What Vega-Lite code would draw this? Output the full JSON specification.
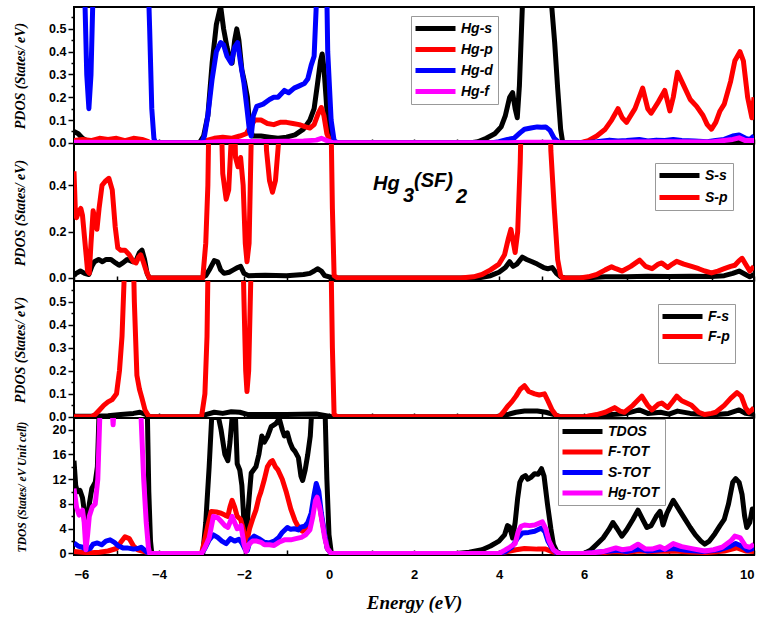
{
"$schema": "https://vega.github.io/schema/vega-lite/v6.json",
"padding": {"left": 11, "top": 6, "right": 5, "bottom": 5},
"spacing": 0,
"bounds": "flush",
"background": "white",
"config": {
  "view": {"stroke": "black", "strokeWidth": 2},
  "line": {"strokeWidth": 5, "clip": true, "strokeJoin": "round"},
  "axisY": {"titleFont": "Liberation Serif", "titleFontStyle": "italic", "titleFontWeight": "bold", "titleFontSize": 14, "titleColor": "black", "titleX": -47, "labelFont": "Liberation Sans", "labelFontWeight": "bold", "labelFontSize": 12.5, "labelColor": "black", "tickColor": "black", "tickWidth": 1.5, "domain": false, "grid": false, "labelPadding": 2},
  "axisX": {"domain": false, "grid": false, "tickColor": "black", "tickWidth": 1.5, "tickSize": -5, "labelColor": "black"},
  "legend": {"orient": "none", "title": null, "symbolType": "M-4,0L4,0", "symbolStrokeWidth": 5, "symbolSize": 100, "symbolOffset": 12, "labelOffset": 18, "labelFont": "Liberation Sans", "labelFontSize": 14, "labelFontWeight": "bold", "labelFontStyle": "italic", "labelColor": "black", "strokeColor": "#999", "fillColor": "white", "padding": 5, "rowPadding": 6}
},
"resolve": {"scale": {"y": "independent", "color": "independent"}},
"datasets": {
"hg": [
{"e":-6,"v":0.05,"s":"Hg-s"},{"e":-5.9,"v":0.04,"s":"Hg-s"},{"e":-5.8,"v":0.02,"s":"Hg-s"},{"e":-5.7,"v":0.01,"s":"Hg-s"},{"e":-5.5,"v":0.01,"s":"Hg-s"},{"e":-5.2,"v":0.012,"s":"Hg-s"},{"e":-4.9,"v":0.006,"s":"Hg-s"},{"e":-4.5,"v":0.006,"s":"Hg-s"},{"e":-4.3,"v":0.003,"s":"Hg-s"},{"e":-4.2,"v":0,"s":"Hg-s"},{"e":-3.05,"v":0,"s":"Hg-s"},{"e":-2.95,"v":0.03,"s":"Hg-s"},{"e":-2.85,"v":0.12,"s":"Hg-s"},{"e":-2.75,"v":0.35,"s":"Hg-s"},{"e":-2.65,"v":0.52,"s":"Hg-s"},{"e":-2.55,"v":0.6,"s":"Hg-s"},{"e":-2.48,"v":0.5,"s":"Hg-s"},{"e":-2.4,"v":0.42,"s":"Hg-s"},{"e":-2.32,"v":0.36,"s":"Hg-s"},{"e":-2.28,"v":0.35,"s":"Hg-s"},{"e":-2.22,"v":0.45,"s":"Hg-s"},{"e":-2.17,"v":0.5,"s":"Hg-s"},{"e":-2.12,"v":0.45,"s":"Hg-s"},{"e":-2.05,"v":0.32,"s":"Hg-s"},{"e":-1.98,"v":0.26,"s":"Hg-s"},{"e":-1.92,"v":0.2,"s":"Hg-s"},{"e":-1.87,"v":0.08,"s":"Hg-s"},{"e":-1.8,"v":0.03,"s":"Hg-s"},{"e":-1.6,"v":0.03,"s":"Hg-s"},{"e":-1.4,"v":0.025,"s":"Hg-s"},{"e":-1.2,"v":0.02,"s":"Hg-s"},{"e":-1.0,"v":0.025,"s":"Hg-s"},{"e":-0.8,"v":0.035,"s":"Hg-s"},{"e":-0.6,"v":0.06,"s":"Hg-s"},{"e":-0.45,"v":0.1,"s":"Hg-s"},{"e":-0.35,"v":0.15,"s":"Hg-s"},{"e":-0.27,"v":0.26,"s":"Hg-s"},{"e":-0.2,"v":0.36,"s":"Hg-s"},{"e":-0.16,"v":0.39,"s":"Hg-s"},{"e":-0.12,"v":0.33,"s":"Hg-s"},{"e":-0.07,"v":0.2,"s":"Hg-s"},{"e":-0.02,"v":0.06,"s":"Hg-s"},{"e":0.05,"v":0.01,"s":"Hg-s"},{"e":0.12,"v":0,"s":"Hg-s"},{"e":3.3,"v":0,"s":"Hg-s"},{"e":3.5,"v":0.005,"s":"Hg-s"},{"e":3.7,"v":0.02,"s":"Hg-s"},{"e":3.9,"v":0.04,"s":"Hg-s"},{"e":4.05,"v":0.07,"s":"Hg-s"},{"e":4.15,"v":0.12,"s":"Hg-s"},{"e":4.25,"v":0.2,"s":"Hg-s"},{"e":4.32,"v":0.22,"s":"Hg-s"},{"e":4.38,"v":0.15,"s":"Hg-s"},{"e":4.43,"v":0.11,"s":"Hg-s"},{"e":4.48,"v":0.25,"s":"Hg-s"},{"e":4.55,"v":0.6,"s":"Hg-s"},{"e":4.6,"v":1,"s":"Hg-s"},{"e":5.15,"v":1,"s":"Hg-s"},{"e":5.24,"v":0.6,"s":"Hg-s"},{"e":5.31,"v":0.44,"s":"Hg-s"},{"e":5.38,"v":0.24,"s":"Hg-s"},{"e":5.45,"v":0.06,"s":"Hg-s"},{"e":5.5,"v":0,"s":"Hg-s"},{"e":9.3,"v":0,"s":"Hg-s"},{"e":9.5,"v":0.005,"s":"Hg-s"},{"e":9.6,"v":0.01,"s":"Hg-s"},{"e":9.7,"v":0.005,"s":"Hg-s"},{"e":10,"v":0,"s":"Hg-s"},
{"e":-6,"v":0.01,"s":"Hg-p"},{"e":-5.8,"v":0.015,"s":"Hg-p"},{"e":-5.6,"v":0.01,"s":"Hg-p"},{"e":-5.4,"v":0.02,"s":"Hg-p"},{"e":-5.2,"v":0.015,"s":"Hg-p"},{"e":-5.0,"v":0.02,"s":"Hg-p"},{"e":-4.8,"v":0.01,"s":"Hg-p"},{"e":-4.6,"v":0.02,"s":"Hg-p"},{"e":-4.4,"v":0.015,"s":"Hg-p"},{"e":-4.25,"v":0.005,"s":"Hg-p"},{"e":-4.2,"v":0,"s":"Hg-p"},{"e":-3.0,"v":0,"s":"Hg-p"},{"e":-2.9,"v":0.01,"s":"Hg-p"},{"e":-2.7,"v":0.02,"s":"Hg-p"},{"e":-2.5,"v":0.025,"s":"Hg-p"},{"e":-2.3,"v":0.02,"s":"Hg-p"},{"e":-2.1,"v":0.03,"s":"Hg-p"},{"e":-1.95,"v":0.04,"s":"Hg-p"},{"e":-1.85,"v":0.07,"s":"Hg-p"},{"e":-1.75,"v":0.1,"s":"Hg-p"},{"e":-1.6,"v":0.1,"s":"Hg-p"},{"e":-1.45,"v":0.085,"s":"Hg-p"},{"e":-1.3,"v":0.08,"s":"Hg-p"},{"e":-1.15,"v":0.09,"s":"Hg-p"},{"e":-1.0,"v":0.09,"s":"Hg-p"},{"e":-0.85,"v":0.085,"s":"Hg-p"},{"e":-0.7,"v":0.08,"s":"Hg-p"},{"e":-0.55,"v":0.07,"s":"Hg-p"},{"e":-0.45,"v":0.065,"s":"Hg-p"},{"e":-0.35,"v":0.08,"s":"Hg-p"},{"e":-0.25,"v":0.13,"s":"Hg-p"},{"e":-0.18,"v":0.155,"s":"Hg-p"},{"e":-0.12,"v":0.12,"s":"Hg-p"},{"e":-0.05,"v":0.04,"s":"Hg-p"},{"e":0.03,"v":0.005,"s":"Hg-p"},{"e":0.1,"v":0,"s":"Hg-p"},{"e":5.9,"v":0,"s":"Hg-p"},{"e":6.1,"v":0.01,"s":"Hg-p"},{"e":6.3,"v":0.03,"s":"Hg-p"},{"e":6.5,"v":0.06,"s":"Hg-p"},{"e":6.65,"v":0.1,"s":"Hg-p"},{"e":6.8,"v":0.15,"s":"Hg-p"},{"e":6.9,"v":0.11,"s":"Hg-p"},{"e":7.0,"v":0.09,"s":"Hg-p"},{"e":7.2,"v":0.15,"s":"Hg-p"},{"e":7.38,"v":0.24,"s":"Hg-p"},{"e":7.5,"v":0.15,"s":"Hg-p"},{"e":7.58,"v":0.13,"s":"Hg-p"},{"e":7.75,"v":0.18,"s":"Hg-p"},{"e":7.9,"v":0.23,"s":"Hg-p"},{"e":8.02,"v":0.14,"s":"Hg-p"},{"e":8.1,"v":0.2,"s":"Hg-p"},{"e":8.2,"v":0.31,"s":"Hg-p"},{"e":8.35,"v":0.25,"s":"Hg-p"},{"e":8.5,"v":0.19,"s":"Hg-p"},{"e":8.65,"v":0.16,"s":"Hg-p"},{"e":8.8,"v":0.12,"s":"Hg-p"},{"e":8.9,"v":0.08,"s":"Hg-p"},{"e":9.0,"v":0.06,"s":"Hg-p"},{"e":9.1,"v":0.09,"s":"Hg-p"},{"e":9.2,"v":0.14,"s":"Hg-p"},{"e":9.3,"v":0.17,"s":"Hg-p"},{"e":9.45,"v":0.27,"s":"Hg-p"},{"e":9.55,"v":0.36,"s":"Hg-p"},{"e":9.67,"v":0.4,"s":"Hg-p"},{"e":9.75,"v":0.36,"s":"Hg-p"},{"e":9.85,"v":0.2,"s":"Hg-p"},{"e":9.95,"v":0.11,"s":"Hg-p"},{"e":10,"v":0.2,"s":"Hg-p"},
{"e":-6,"v":1,"s":"Hg-d"},{"e":-5.78,"v":1,"s":"Hg-d"},{"e":-5.74,"v":0.6,"s":"Hg-d"},{"e":-5.7,"v":0.3,"s":"Hg-d"},{"e":-5.65,"v":0.15,"s":"Hg-d"},{"e":-5.6,"v":0.3,"s":"Hg-d"},{"e":-5.56,"v":0.6,"s":"Hg-d"},{"e":-5.52,"v":1,"s":"Hg-d"},{"e":-4.3,"v":1,"s":"Hg-d"},{"e":-4.22,"v":0.5,"s":"Hg-d"},{"e":-4.17,"v":0.15,"s":"Hg-d"},{"e":-4.12,"v":0.02,"s":"Hg-d"},{"e":-4.08,"v":0,"s":"Hg-d"},{"e":-3.0,"v":0,"s":"Hg-d"},{"e":-2.93,"v":0.03,"s":"Hg-d"},{"e":-2.85,"v":0.12,"s":"Hg-d"},{"e":-2.75,"v":0.28,"s":"Hg-d"},{"e":-2.65,"v":0.4,"s":"Hg-d"},{"e":-2.55,"v":0.44,"s":"Hg-d"},{"e":-2.48,"v":0.43,"s":"Hg-d"},{"e":-2.4,"v":0.38,"s":"Hg-d"},{"e":-2.3,"v":0.35,"s":"Hg-d"},{"e":-2.22,"v":0.42,"s":"Hg-d"},{"e":-2.15,"v":0.44,"s":"Hg-d"},{"e":-2.08,"v":0.35,"s":"Hg-d"},{"e":-2.0,"v":0.26,"s":"Hg-d"},{"e":-1.93,"v":0.15,"s":"Hg-d"},{"e":-1.87,"v":0.05,"s":"Hg-d"},{"e":-1.83,"v":0.03,"s":"Hg-d"},{"e":-1.78,"v":0.12,"s":"Hg-d"},{"e":-1.7,"v":0.16,"s":"Hg-d"},{"e":-1.55,"v":0.17,"s":"Hg-d"},{"e":-1.4,"v":0.19,"s":"Hg-d"},{"e":-1.3,"v":0.2,"s":"Hg-d"},{"e":-1.2,"v":0.2,"s":"Hg-d"},{"e":-1.05,"v":0.23,"s":"Hg-d"},{"e":-0.95,"v":0.22,"s":"Hg-d"},{"e":-0.82,"v":0.24,"s":"Hg-d"},{"e":-0.7,"v":0.25,"s":"Hg-d"},{"e":-0.58,"v":0.26,"s":"Hg-d"},{"e":-0.5,"v":0.28,"s":"Hg-d"},{"e":-0.42,"v":0.34,"s":"Hg-d"},{"e":-0.35,"v":0.38,"s":"Hg-d"},{"e":-0.3,"v":0.6,"s":"Hg-d"},{"e":-0.27,"v":1,"s":"Hg-d"},{"e":-0.08,"v":1,"s":"Hg-d"},{"e":-0.03,"v":0.4,"s":"Hg-d"},{"e":0.05,"v":0.1,"s":"Hg-d"},{"e":0.12,"v":0.01,"s":"Hg-d"},{"e":0.2,"v":0,"s":"Hg-d"},{"e":3.8,"v":0,"s":"Hg-d"},{"e":4.0,"v":0.005,"s":"Hg-d"},{"e":4.2,"v":0.015,"s":"Hg-d"},{"e":4.35,"v":0.02,"s":"Hg-d"},{"e":4.5,"v":0.045,"s":"Hg-d"},{"e":4.6,"v":0.06,"s":"Hg-d"},{"e":4.75,"v":0.065,"s":"Hg-d"},{"e":4.9,"v":0.07,"s":"Hg-d"},{"e":5.0,"v":0.068,"s":"Hg-d"},{"e":5.1,"v":0.07,"s":"Hg-d"},{"e":5.2,"v":0.055,"s":"Hg-d"},{"e":5.3,"v":0.02,"s":"Hg-d"},{"e":5.4,"v":0.003,"s":"Hg-d"},{"e":5.5,"v":0,"s":"Hg-d"},{"e":6.0,"v":0,"s":"Hg-d"},{"e":6.3,"v":0.005,"s":"Hg-d"},{"e":6.6,"v":0.012,"s":"Hg-d"},{"e":6.8,"v":0.008,"s":"Hg-d"},{"e":7.0,"v":0.01,"s":"Hg-d"},{"e":7.3,"v":0.015,"s":"Hg-d"},{"e":7.5,"v":0.008,"s":"Hg-d"},{"e":7.7,"v":0.012,"s":"Hg-d"},{"e":7.9,"v":0.01,"s":"Hg-d"},{"e":8.1,"v":0.015,"s":"Hg-d"},{"e":8.3,"v":0.01,"s":"Hg-d"},{"e":8.6,"v":0.008,"s":"Hg-d"},{"e":8.9,"v":0.005,"s":"Hg-d"},{"e":9.1,"v":0.01,"s":"Hg-d"},{"e":9.3,"v":0.015,"s":"Hg-d"},{"e":9.5,"v":0.03,"s":"Hg-d"},{"e":9.65,"v":0.035,"s":"Hg-d"},{"e":9.8,"v":0.02,"s":"Hg-d"},{"e":9.9,"v":0.015,"s":"Hg-d"},{"e":10,"v":0.03,"s":"Hg-d"},
{"e":-6,"v":0.003,"s":"Hg-f"},{"e":-4.2,"v":0.002,"s":"Hg-f"},{"e":-4.1,"v":0,"s":"Hg-f"},{"e":-3,"v":0,"s":"Hg-f"},{"e":-2.6,"v":0.005,"s":"Hg-f"},{"e":-2.2,"v":0.006,"s":"Hg-f"},{"e":-1.5,"v":0.006,"s":"Hg-f"},{"e":-0.6,"v":0.008,"s":"Hg-f"},{"e":-0.3,"v":0.012,"s":"Hg-f"},{"e":-0.18,"v":0.02,"s":"Hg-f"},{"e":-0.05,"v":0.01,"s":"Hg-f"},{"e":0.1,"v":0,"s":"Hg-f"},{"e":4.2,"v":0,"s":"Hg-f"},{"e":4.6,"v":0.003,"s":"Hg-f"},{"e":5.3,"v":0.003,"s":"Hg-f"},{"e":5.5,"v":0,"s":"Hg-f"},{"e":6.0,"v":0,"s":"Hg-f"},{"e":7,"v":0.004,"s":"Hg-f"},{"e":8,"v":0.005,"s":"Hg-f"},{"e":9.0,"v":0.004,"s":"Hg-f"},{"e":9.5,"v":0.015,"s":"Hg-f"},{"e":9.65,"v":0.022,"s":"Hg-f"},{"e":9.8,"v":0.01,"s":"Hg-f"},{"e":10,"v":0.01,"s":"Hg-f"}
],
"s": [
{"e":-6,"v":0.01,"s":"S-s"},{"e":-5.95,"v":0.02,"s":"S-s"},{"e":-5.85,"v":0.03,"s":"S-s"},{"e":-5.75,"v":0.02,"s":"S-s"},{"e":-5.65,"v":0.015,"s":"S-s"},{"e":-5.58,"v":0.05,"s":"S-s"},{"e":-5.52,"v":0.07,"s":"S-s"},{"e":-5.42,"v":0.08,"s":"S-s"},{"e":-5.33,"v":0.07,"s":"S-s"},{"e":-5.25,"v":0.08,"s":"S-s"},{"e":-5.13,"v":0.08,"s":"S-s"},{"e":-5.02,"v":0.065,"s":"S-s"},{"e":-4.94,"v":0.055,"s":"S-s"},{"e":-4.85,"v":0.065,"s":"S-s"},{"e":-4.75,"v":0.08,"s":"S-s"},{"e":-4.62,"v":0.07,"s":"S-s"},{"e":-4.54,"v":0.075,"s":"S-s"},{"e":-4.46,"v":0.11,"s":"S-s"},{"e":-4.4,"v":0.12,"s":"S-s"},{"e":-4.34,"v":0.08,"s":"S-s"},{"e":-4.28,"v":0.02,"s":"S-s"},{"e":-4.23,"v":0,"s":"S-s"},{"e":-3.0,"v":0,"s":"S-s"},{"e":-2.9,"v":0.01,"s":"S-s"},{"e":-2.8,"v":0.04,"s":"S-s"},{"e":-2.7,"v":0.075,"s":"S-s"},{"e":-2.62,"v":0.07,"s":"S-s"},{"e":-2.55,"v":0.035,"s":"S-s"},{"e":-2.47,"v":0.02,"s":"S-s"},{"e":-2.35,"v":0.025,"s":"S-s"},{"e":-2.25,"v":0.035,"s":"S-s"},{"e":-2.15,"v":0.045,"s":"S-s"},{"e":-2.08,"v":0.05,"s":"S-s"},{"e":-2.0,"v":0.02,"s":"S-s"},{"e":-1.9,"v":0.01,"s":"S-s"},{"e":-1.5,"v":0.012,"s":"S-s"},{"e":-1.0,"v":0.01,"s":"S-s"},{"e":-0.6,"v":0.015,"s":"S-s"},{"e":-0.45,"v":0.02,"s":"S-s"},{"e":-0.35,"v":0.03,"s":"S-s"},{"e":-0.27,"v":0.04,"s":"S-s"},{"e":-0.18,"v":0.03,"s":"S-s"},{"e":-0.1,"v":0.01,"s":"S-s"},{"e":0.1,"v":0,"s":"S-s"},{"e":3.5,"v":0,"s":"S-s"},{"e":3.8,"v":0.01,"s":"S-s"},{"e":4.0,"v":0.025,"s":"S-s"},{"e":4.15,"v":0.045,"s":"S-s"},{"e":4.25,"v":0.07,"s":"S-s"},{"e":4.33,"v":0.05,"s":"S-s"},{"e":4.42,"v":0.06,"s":"S-s"},{"e":4.55,"v":0.09,"s":"S-s"},{"e":4.65,"v":0.08,"s":"S-s"},{"e":4.78,"v":0.07,"s":"S-s"},{"e":4.9,"v":0.06,"s":"S-s"},{"e":5.05,"v":0.045,"s":"S-s"},{"e":5.15,"v":0.04,"s":"S-s"},{"e":5.25,"v":0.045,"s":"S-s"},{"e":5.35,"v":0.02,"s":"S-s"},{"e":5.45,"v":0.005,"s":"S-s"},{"e":5.55,"v":0,"s":"S-s"},{"e":6.0,"v":0,"s":"S-s"},{"e":6.5,"v":0.005,"s":"S-s"},{"e":7.0,"v":0.005,"s":"S-s"},{"e":7.5,"v":0.008,"s":"S-s"},{"e":8.0,"v":0.006,"s":"S-s"},{"e":8.5,"v":0.008,"s":"S-s"},{"e":9.0,"v":0.006,"s":"S-s"},{"e":9.3,"v":0.01,"s":"S-s"},{"e":9.5,"v":0.02,"s":"S-s"},{"e":9.65,"v":0.03,"s":"S-s"},{"e":9.8,"v":0.015,"s":"S-s"},{"e":9.9,"v":0.005,"s":"S-s"},{"e":10,"v":0.015,"s":"S-s"},
{"e":-6,"v":0.46,"s":"S-p"},{"e":-5.97,"v":0.3,"s":"S-p"},{"e":-5.94,"v":0.26,"s":"S-p"},{"e":-5.88,"v":0.29,"s":"S-p"},{"e":-5.84,"v":0.3,"s":"S-p"},{"e":-5.8,"v":0.27,"s":"S-p"},{"e":-5.74,"v":0.15,"s":"S-p"},{"e":-5.68,"v":0.03,"s":"S-p"},{"e":-5.64,"v":0.02,"s":"S-p"},{"e":-5.6,"v":0.15,"s":"S-p"},{"e":-5.55,"v":0.29,"s":"S-p"},{"e":-5.5,"v":0.25,"s":"S-p"},{"e":-5.46,"v":0.21,"s":"S-p"},{"e":-5.41,"v":0.3,"s":"S-p"},{"e":-5.34,"v":0.4,"s":"S-p"},{"e":-5.25,"v":0.42,"s":"S-p"},{"e":-5.18,"v":0.43,"s":"S-p"},{"e":-5.1,"v":0.38,"s":"S-p"},{"e":-5.03,"v":0.22,"s":"S-p"},{"e":-4.97,"v":0.13,"s":"S-p"},{"e":-4.9,"v":0.12,"s":"S-p"},{"e":-4.8,"v":0.12,"s":"S-p"},{"e":-4.7,"v":0.1,"s":"S-p"},{"e":-4.6,"v":0.07,"s":"S-p"},{"e":-4.54,"v":0.065,"s":"S-p"},{"e":-4.48,"v":0.09,"s":"S-p"},{"e":-4.43,"v":0.1,"s":"S-p"},{"e":-4.37,"v":0.07,"s":"S-p"},{"e":-4.3,"v":0.03,"s":"S-p"},{"e":-4.23,"v":0,"s":"S-p"},{"e":-2.97,"v":0,"s":"S-p"},{"e":-2.9,"v":0.15,"s":"S-p"},{"e":-2.85,"v":0.4,"s":"S-p"},{"e":-2.8,"v":1,"s":"S-p"},{"e":-2.58,"v":1,"s":"S-p"},{"e":-2.5,"v":0.45,"s":"S-p"},{"e":-2.42,"v":0.34,"s":"S-p"},{"e":-2.36,"v":0.38,"s":"S-p"},{"e":-2.3,"v":0.6,"s":"S-p"},{"e":-2.26,"v":1,"s":"S-p"},{"e":-2.2,"v":0.52,"s":"S-p"},{"e":-2.14,"v":0.48,"s":"S-p"},{"e":-2.08,"v":0.52,"s":"S-p"},{"e":-2.02,"v":0.4,"s":"S-p"},{"e":-1.97,"v":0.15,"s":"S-p"},{"e":-1.93,"v":0.07,"s":"S-p"},{"e":-1.88,"v":0.15,"s":"S-p"},{"e":-1.83,"v":0.6,"s":"S-p"},{"e":-1.8,"v":1,"s":"S-p"},{"e":-1.55,"v":1,"s":"S-p"},{"e":-1.47,"v":0.55,"s":"S-p"},{"e":-1.4,"v":0.42,"s":"S-p"},{"e":-1.33,"v":0.37,"s":"S-p"},{"e":-1.26,"v":0.42,"s":"S-p"},{"e":-1.18,"v":0.6,"s":"S-p"},{"e":-1.12,"v":1,"s":"S-p"},{"e":0.02,"v":1,"s":"S-p"},{"e":0.08,"v":0.3,"s":"S-p"},{"e":0.12,"v":0.01,"s":"S-p"},{"e":0.2,"v":0,"s":"S-p"},{"e":3.1,"v":0,"s":"S-p"},{"e":3.4,"v":0.005,"s":"S-p"},{"e":3.6,"v":0.015,"s":"S-p"},{"e":3.8,"v":0.035,"s":"S-p"},{"e":4.0,"v":0.06,"s":"S-p"},{"e":4.13,"v":0.1,"s":"S-p"},{"e":4.22,"v":0.17,"s":"S-p"},{"e":4.28,"v":0.21,"s":"S-p"},{"e":4.33,"v":0.16,"s":"S-p"},{"e":4.38,"v":0.11,"s":"S-p"},{"e":4.44,"v":0.2,"s":"S-p"},{"e":4.5,"v":0.5,"s":"S-p"},{"e":4.56,"v":1,"s":"S-p"},{"e":5.17,"v":1,"s":"S-p"},{"e":5.22,"v":0.55,"s":"S-p"},{"e":5.3,"v":0.3,"s":"S-p"},{"e":5.38,"v":0.08,"s":"S-p"},{"e":5.45,"v":0.01,"s":"S-p"},{"e":5.5,"v":0,"s":"S-p"},{"e":5.9,"v":0,"s":"S-p"},{"e":6.1,"v":0.005,"s":"S-p"},{"e":6.3,"v":0.015,"s":"S-p"},{"e":6.5,"v":0.035,"s":"S-p"},{"e":6.65,"v":0.048,"s":"S-p"},{"e":6.75,"v":0.04,"s":"S-p"},{"e":6.9,"v":0.03,"s":"S-p"},{"e":7.1,"v":0.05,"s":"S-p"},{"e":7.31,"v":0.077,"s":"S-p"},{"e":7.45,"v":0.05,"s":"S-p"},{"e":7.6,"v":0.04,"s":"S-p"},{"e":7.75,"v":0.06,"s":"S-p"},{"e":7.83,"v":0.065,"s":"S-p"},{"e":7.97,"v":0.045,"s":"S-p"},{"e":8.08,"v":0.06,"s":"S-p"},{"e":8.18,"v":0.072,"s":"S-p"},{"e":8.35,"v":0.06,"s":"S-p"},{"e":8.53,"v":0.05,"s":"S-p"},{"e":8.7,"v":0.04,"s":"S-p"},{"e":8.84,"v":0.03,"s":"S-p"},{"e":9.0,"v":0.022,"s":"S-p"},{"e":9.15,"v":0.03,"s":"S-p"},{"e":9.3,"v":0.04,"s":"S-p"},{"e":9.45,"v":0.05,"s":"S-p"},{"e":9.55,"v":0.055,"s":"S-p"},{"e":9.65,"v":0.075,"s":"S-p"},{"e":9.72,"v":0.085,"s":"S-p"},{"e":9.8,"v":0.06,"s":"S-p"},{"e":9.9,"v":0.03,"s":"S-p"},{"e":10,"v":0.05,"s":"S-p"}
],
"f": [
{"e":-6,"v":0.003,"s":"F-s"},{"e":-5.5,"v":0.003,"s":"F-s"},{"e":-5.2,"v":0.005,"s":"F-s"},{"e":-4.9,"v":0.01,"s":"F-s"},{"e":-4.6,"v":0.015,"s":"F-s"},{"e":-4.45,"v":0.02,"s":"F-s"},{"e":-4.3,"v":0.01,"s":"F-s"},{"e":-4.2,"v":0,"s":"F-s"},{"e":-3.0,"v":0,"s":"F-s"},{"e":-2.9,"v":0.01,"s":"F-s"},{"e":-2.7,"v":0.02,"s":"F-s"},{"e":-2.5,"v":0.015,"s":"F-s"},{"e":-2.3,"v":0.022,"s":"F-s"},{"e":-2.1,"v":0.02,"s":"F-s"},{"e":-1.9,"v":0.01,"s":"F-s"},{"e":-1.0,"v":0.01,"s":"F-s"},{"e":-0.3,"v":0.012,"s":"F-s"},{"e":0.1,"v":0,"s":"F-s"},{"e":3.9,"v":0,"s":"F-s"},{"e":4.2,"v":0.01,"s":"F-s"},{"e":4.4,"v":0.02,"s":"F-s"},{"e":4.6,"v":0.025,"s":"F-s"},{"e":4.9,"v":0.025,"s":"F-s"},{"e":5.1,"v":0.02,"s":"F-s"},{"e":5.3,"v":0.01,"s":"F-s"},{"e":5.45,"v":0,"s":"F-s"},{"e":6.0,"v":0,"s":"F-s"},{"e":6.5,"v":0.008,"s":"F-s"},{"e":7.0,"v":0.015,"s":"F-s"},{"e":7.3,"v":0.03,"s":"F-s"},{"e":7.5,"v":0.015,"s":"F-s"},{"e":7.8,"v":0.02,"s":"F-s"},{"e":8.0,"v":0.012,"s":"F-s"},{"e":8.2,"v":0.025,"s":"F-s"},{"e":8.5,"v":0.015,"s":"F-s"},{"e":9.0,"v":0.008,"s":"F-s"},{"e":9.4,"v":0.015,"s":"F-s"},{"e":9.65,"v":0.03,"s":"F-s"},{"e":9.8,"v":0.015,"s":"F-s"},{"e":10,"v":0.01,"s":"F-s"},
{"e":-6,"v":0,"s":"F-p"},{"e":-5.6,"v":0,"s":"F-p"},{"e":-5.5,"v":0.01,"s":"F-p"},{"e":-5.4,"v":0.03,"s":"F-p"},{"e":-5.3,"v":0.05,"s":"F-p"},{"e":-5.2,"v":0.065,"s":"F-p"},{"e":-5.1,"v":0.075,"s":"F-p"},{"e":-5.0,"v":0.1,"s":"F-p"},{"e":-4.93,"v":0.2,"s":"F-p"},{"e":-4.87,"v":0.35,"s":"F-p"},{"e":-4.82,"v":0.6,"s":"F-p"},{"e":-4.78,"v":1,"s":"F-p"},{"e":-4.64,"v":1,"s":"F-p"},{"e":-4.58,"v":0.5,"s":"F-p"},{"e":-4.52,"v":0.18,"s":"F-p"},{"e":-4.46,"v":0.12,"s":"F-p"},{"e":-4.4,"v":0.08,"s":"F-p"},{"e":-4.33,"v":0.03,"s":"F-p"},{"e":-4.25,"v":0.005,"s":"F-p"},{"e":-4.2,"v":0,"s":"F-p"},{"e":-3.0,"v":0,"s":"F-p"},{"e":-2.92,"v":0.1,"s":"F-p"},{"e":-2.87,"v":0.35,"s":"F-p"},{"e":-2.82,"v":1,"s":"F-p"},{"e":-2.06,"v":1,"s":"F-p"},{"e":-2.0,"v":0.5,"s":"F-p"},{"e":-1.96,"v":0.2,"s":"F-p"},{"e":-1.93,"v":0.11,"s":"F-p"},{"e":-1.89,"v":0.2,"s":"F-p"},{"e":-1.84,"v":0.6,"s":"F-p"},{"e":-1.8,"v":1,"s":"F-p"},{"e":0.02,"v":1,"s":"F-p"},{"e":0.08,"v":0.3,"s":"F-p"},{"e":0.12,"v":0.01,"s":"F-p"},{"e":0.2,"v":0,"s":"F-p"},{"e":4.0,"v":0,"s":"F-p"},{"e":4.1,"v":0.02,"s":"F-p"},{"e":4.2,"v":0.045,"s":"F-p"},{"e":4.3,"v":0.065,"s":"F-p"},{"e":4.4,"v":0.09,"s":"F-p"},{"e":4.5,"v":0.12,"s":"F-p"},{"e":4.6,"v":0.135,"s":"F-p"},{"e":4.7,"v":0.11,"s":"F-p"},{"e":4.84,"v":0.1,"s":"F-p"},{"e":4.95,"v":0.095,"s":"F-p"},{"e":5.07,"v":0.1,"s":"F-p"},{"e":5.15,"v":0.07,"s":"F-p"},{"e":5.25,"v":0.03,"s":"F-p"},{"e":5.35,"v":0.005,"s":"F-p"},{"e":5.45,"v":0,"s":"F-p"},{"e":6.0,"v":0,"s":"F-p"},{"e":6.3,"v":0.01,"s":"F-p"},{"e":6.5,"v":0.02,"s":"F-p"},{"e":6.72,"v":0.04,"s":"F-p"},{"e":6.85,"v":0.025,"s":"F-p"},{"e":6.95,"v":0.02,"s":"F-p"},{"e":7.15,"v":0.05,"s":"F-p"},{"e":7.36,"v":0.09,"s":"F-p"},{"e":7.5,"v":0.05,"s":"F-p"},{"e":7.6,"v":0.03,"s":"F-p"},{"e":7.75,"v":0.055,"s":"F-p"},{"e":7.83,"v":0.06,"s":"F-p"},{"e":7.97,"v":0.04,"s":"F-p"},{"e":8.1,"v":0.07,"s":"F-p"},{"e":8.18,"v":0.09,"s":"F-p"},{"e":8.3,"v":0.07,"s":"F-p"},{"e":8.53,"v":0.05,"s":"F-p"},{"e":8.7,"v":0.02,"s":"F-p"},{"e":8.84,"v":0.01,"s":"F-p"},{"e":9.0,"v":0.015,"s":"F-p"},{"e":9.1,"v":0.02,"s":"F-p"},{"e":9.3,"v":0.05,"s":"F-p"},{"e":9.45,"v":0.08,"s":"F-p"},{"e":9.6,"v":0.105,"s":"F-p"},{"e":9.7,"v":0.09,"s":"F-p"},{"e":9.8,"v":0.04,"s":"F-p"},{"e":9.88,"v":0.02,"s":"F-p"},{"e":9.95,"v":0.03,"s":"F-p"},{"e":10,"v":0.04,"s":"F-p"}
],
"t": [
{"e":-6,"v":15,"s":"TDOS"},{"e":-5.96,"v":11,"s":"TDOS"},{"e":-5.92,"v":10,"s":"TDOS"},{"e":-5.86,"v":10.2,"s":"TDOS"},{"e":-5.8,"v":9,"s":"TDOS"},{"e":-5.76,"v":7,"s":"TDOS"},{"e":-5.72,"v":2.7,"s":"TDOS"},{"e":-5.68,"v":5,"s":"TDOS"},{"e":-5.64,"v":8,"s":"TDOS"},{"e":-5.58,"v":10.5,"s":"TDOS"},{"e":-5.5,"v":11.5,"s":"TDOS"},{"e":-5.45,"v":14,"s":"TDOS"},{"e":-5.4,"v":25,"s":"TDOS"},{"e":-4.28,"v":25,"s":"TDOS"},{"e":-4.24,"v":10,"s":"TDOS"},{"e":-4.2,"v":2,"s":"TDOS"},{"e":-4.17,"v":0,"s":"TDOS"},{"e":-2.97,"v":0,"s":"TDOS"},{"e":-2.9,"v":5,"s":"TDOS"},{"e":-2.82,"v":14,"s":"TDOS"},{"e":-2.76,"v":22,"s":"TDOS"},{"e":-2.6,"v":22,"s":"TDOS"},{"e":-2.54,"v":20,"s":"TDOS"},{"e":-2.45,"v":16,"s":"TDOS"},{"e":-2.38,"v":15,"s":"TDOS"},{"e":-2.33,"v":18,"s":"TDOS"},{"e":-2.28,"v":22,"s":"TDOS"},{"e":-2.2,"v":22,"s":"TDOS"},{"e":-2.16,"v":14.5,"s":"TDOS"},{"e":-2.1,"v":13.5,"s":"TDOS"},{"e":-2.05,"v":11,"s":"TDOS"},{"e":-2.0,"v":5,"s":"TDOS"},{"e":-1.94,"v":3.5,"s":"TDOS"},{"e":-1.88,"v":9,"s":"TDOS"},{"e":-1.83,"v":13,"s":"TDOS"},{"e":-1.72,"v":14,"s":"TDOS"},{"e":-1.65,"v":16,"s":"TDOS"},{"e":-1.58,"v":19,"s":"TDOS"},{"e":-1.52,"v":18,"s":"TDOS"},{"e":-1.44,"v":19,"s":"TDOS"},{"e":-1.36,"v":20.5,"s":"TDOS"},{"e":-1.25,"v":21,"s":"TDOS"},{"e":-1.17,"v":21.8,"s":"TDOS"},{"e":-1.1,"v":20,"s":"TDOS"},{"e":-1.05,"v":19,"s":"TDOS"},{"e":-0.98,"v":19.5,"s":"TDOS"},{"e":-0.92,"v":18,"s":"TDOS"},{"e":-0.86,"v":17,"s":"TDOS"},{"e":-0.8,"v":16.5,"s":"TDOS"},{"e":-0.72,"v":15.5,"s":"TDOS"},{"e":-0.66,"v":12.5,"s":"TDOS"},{"e":-0.62,"v":11.8,"s":"TDOS"},{"e":-0.56,"v":13.5,"s":"TDOS"},{"e":-0.5,"v":16,"s":"TDOS"},{"e":-0.44,"v":19,"s":"TDOS"},{"e":-0.39,"v":25,"s":"TDOS"},{"e":-0.1,"v":25,"s":"TDOS"},{"e":-0.05,"v":12,"s":"TDOS"},{"e":0.0,"v":3,"s":"TDOS"},{"e":0.05,"v":0.3,"s":"TDOS"},{"e":0.1,"v":0,"s":"TDOS"},{"e":3.0,"v":0,"s":"TDOS"},{"e":3.3,"v":0.2,"s":"TDOS"},{"e":3.6,"v":0.6,"s":"TDOS"},{"e":3.8,"v":1.2,"s":"TDOS"},{"e":4.0,"v":2.0,"s":"TDOS"},{"e":4.13,"v":3,"s":"TDOS"},{"e":4.2,"v":4.5,"s":"TDOS"},{"e":4.25,"v":4.3,"s":"TDOS"},{"e":4.32,"v":2.5,"s":"TDOS"},{"e":4.38,"v":5,"s":"TDOS"},{"e":4.44,"v":9,"s":"TDOS"},{"e":4.49,"v":11.5,"s":"TDOS"},{"e":4.55,"v":12.3,"s":"TDOS"},{"e":4.62,"v":12.6,"s":"TDOS"},{"e":4.68,"v":12,"s":"TDOS"},{"e":4.75,"v":12.3,"s":"TDOS"},{"e":4.84,"v":12.9,"s":"TDOS"},{"e":4.92,"v":12.8,"s":"TDOS"},{"e":5.0,"v":13.7,"s":"TDOS"},{"e":5.06,"v":12.5,"s":"TDOS"},{"e":5.14,"v":8,"s":"TDOS"},{"e":5.22,"v":4,"s":"TDOS"},{"e":5.28,"v":1.5,"s":"TDOS"},{"e":5.36,"v":0.3,"s":"TDOS"},{"e":5.45,"v":0,"s":"TDOS"},{"e":6.0,"v":0,"s":"TDOS"},{"e":6.15,"v":0.5,"s":"TDOS"},{"e":6.3,"v":1.5,"s":"TDOS"},{"e":6.45,"v":2.5,"s":"TDOS"},{"e":6.58,"v":3.8,"s":"TDOS"},{"e":6.68,"v":5.0,"s":"TDOS"},{"e":6.78,"v":4.0,"s":"TDOS"},{"e":6.89,"v":2.8,"s":"TDOS"},{"e":7.0,"v":3.8,"s":"TDOS"},{"e":7.15,"v":5.5,"s":"TDOS"},{"e":7.27,"v":7.0,"s":"TDOS"},{"e":7.38,"v":5.5,"s":"TDOS"},{"e":7.48,"v":4.2,"s":"TDOS"},{"e":7.58,"v":4.5,"s":"TDOS"},{"e":7.7,"v":6.0,"s":"TDOS"},{"e":7.79,"v":6.8,"s":"TDOS"},{"e":7.86,"v":4.6,"s":"TDOS"},{"e":7.95,"v":6.5,"s":"TDOS"},{"e":8.1,"v":8.6,"s":"TDOS"},{"e":8.2,"v":7.5,"s":"TDOS"},{"e":8.38,"v":5.5,"s":"TDOS"},{"e":8.5,"v":4.2,"s":"TDOS"},{"e":8.62,"v":3.0,"s":"TDOS"},{"e":8.75,"v":2.0,"s":"TDOS"},{"e":8.84,"v":1.5,"s":"TDOS"},{"e":8.95,"v":2.0,"s":"TDOS"},{"e":9.08,"v":3.2,"s":"TDOS"},{"e":9.2,"v":4.5,"s":"TDOS"},{"e":9.3,"v":5.5,"s":"TDOS"},{"e":9.4,"v":8.0,"s":"TDOS"},{"e":9.5,"v":11.5,"s":"TDOS"},{"e":9.57,"v":12.1,"s":"TDOS"},{"e":9.65,"v":11.5,"s":"TDOS"},{"e":9.72,"v":9.5,"s":"TDOS"},{"e":9.78,"v":6,"s":"TDOS"},{"e":9.83,"v":4.2,"s":"TDOS"},{"e":9.9,"v":5,"s":"TDOS"},{"e":9.96,"v":7.2,"s":"TDOS"},{"e":10,"v":7,"s":"TDOS"},
{"e":-6,"v":0.3,"s":"F-TOT"},{"e":-5.8,"v":0.2,"s":"F-TOT"},{"e":-5.6,"v":0.1,"s":"F-TOT"},{"e":-5.4,"v":0.2,"s":"F-TOT"},{"e":-5.2,"v":0.4,"s":"F-TOT"},{"e":-5.0,"v":0.8,"s":"F-TOT"},{"e":-4.9,"v":1.8,"s":"F-TOT"},{"e":-4.8,"v":2.7,"s":"F-TOT"},{"e":-4.7,"v":2.4,"s":"F-TOT"},{"e":-4.6,"v":1.2,"s":"F-TOT"},{"e":-4.5,"v":0.6,"s":"F-TOT"},{"e":-4.4,"v":0.4,"s":"F-TOT"},{"e":-4.3,"v":0.2,"s":"F-TOT"},{"e":-4.2,"v":0,"s":"F-TOT"},{"e":-3.0,"v":0,"s":"F-TOT"},{"e":-2.93,"v":2,"s":"F-TOT"},{"e":-2.85,"v":4.5,"s":"F-TOT"},{"e":-2.77,"v":6.8,"s":"F-TOT"},{"e":-2.65,"v":6.7,"s":"F-TOT"},{"e":-2.54,"v":6.5,"s":"F-TOT"},{"e":-2.45,"v":6.2,"s":"F-TOT"},{"e":-2.38,"v":6,"s":"F-TOT"},{"e":-2.33,"v":7.5,"s":"F-TOT"},{"e":-2.28,"v":8.6,"s":"F-TOT"},{"e":-2.22,"v":7.5,"s":"F-TOT"},{"e":-2.16,"v":6,"s":"F-TOT"},{"e":-2.08,"v":5.5,"s":"F-TOT"},{"e":-2.02,"v":4,"s":"F-TOT"},{"e":-1.97,"v":2.2,"s":"F-TOT"},{"e":-1.93,"v":2,"s":"F-TOT"},{"e":-1.87,"v":4,"s":"F-TOT"},{"e":-1.8,"v":5.5,"s":"F-TOT"},{"e":-1.72,"v":7,"s":"F-TOT"},{"e":-1.65,"v":9,"s":"F-TOT"},{"e":-1.6,"v":10,"s":"F-TOT"},{"e":-1.52,"v":12,"s":"F-TOT"},{"e":-1.45,"v":14,"s":"F-TOT"},{"e":-1.38,"v":14.8,"s":"F-TOT"},{"e":-1.33,"v":15,"s":"F-TOT"},{"e":-1.26,"v":14,"s":"F-TOT"},{"e":-1.2,"v":13.5,"s":"F-TOT"},{"e":-1.1,"v":12,"s":"F-TOT"},{"e":-1.0,"v":9.8,"s":"F-TOT"},{"e":-0.9,"v":7.2,"s":"F-TOT"},{"e":-0.8,"v":5.3,"s":"F-TOT"},{"e":-0.7,"v":4,"s":"F-TOT"},{"e":-0.63,"v":3.6,"s":"F-TOT"},{"e":-0.55,"v":4,"s":"F-TOT"},{"e":-0.45,"v":5.5,"s":"F-TOT"},{"e":-0.38,"v":7,"s":"F-TOT"},{"e":-0.3,"v":9,"s":"F-TOT"},{"e":-0.24,"v":8.5,"s":"F-TOT"},{"e":-0.18,"v":6,"s":"F-TOT"},{"e":-0.1,"v":3,"s":"F-TOT"},{"e":-0.04,"v":0.8,"s":"F-TOT"},{"e":0.05,"v":0,"s":"F-TOT"},{"e":4.0,"v":0,"s":"F-TOT"},{"e":4.2,"v":0.3,"s":"F-TOT"},{"e":4.4,"v":0.6,"s":"F-TOT"},{"e":4.6,"v":0.8,"s":"F-TOT"},{"e":4.9,"v":0.7,"s":"F-TOT"},{"e":5.1,"v":0.7,"s":"F-TOT"},{"e":5.25,"v":0.3,"s":"F-TOT"},{"e":5.4,"v":0,"s":"F-TOT"},{"e":6.0,"v":0,"s":"F-TOT"},{"e":6.5,"v":0.15,"s":"F-TOT"},{"e":6.7,"v":0.3,"s":"F-TOT"},{"e":7.0,"v":0.2,"s":"F-TOT"},{"e":7.3,"v":0.4,"s":"F-TOT"},{"e":7.6,"v":0.3,"s":"F-TOT"},{"e":7.8,"v":0.35,"s":"F-TOT"},{"e":8.1,"v":0.4,"s":"F-TOT"},{"e":8.5,"v":0.25,"s":"F-TOT"},{"e":8.9,"v":0.15,"s":"F-TOT"},{"e":9.3,"v":0.4,"s":"F-TOT"},{"e":9.6,"v":0.9,"s":"F-TOT"},{"e":9.8,"v":0.4,"s":"F-TOT"},{"e":10,"v":0.3,"s":"F-TOT"},
{"e":-6,"v":1.7,"s":"S-TOT"},{"e":-5.9,"v":1.2,"s":"S-TOT"},{"e":-5.8,"v":1.0,"s":"S-TOT"},{"e":-5.7,"v":0.6,"s":"S-TOT"},{"e":-5.62,"v":0.8,"s":"S-TOT"},{"e":-5.55,"v":1.5,"s":"S-TOT"},{"e":-5.45,"v":1.7,"s":"S-TOT"},{"e":-5.35,"v":1.4,"s":"S-TOT"},{"e":-5.25,"v":2.0,"s":"S-TOT"},{"e":-5.15,"v":2.2,"s":"S-TOT"},{"e":-5.05,"v":1.8,"s":"S-TOT"},{"e":-4.95,"v":1.2,"s":"S-TOT"},{"e":-4.85,"v":0.9,"s":"S-TOT"},{"e":-4.75,"v":0.9,"s":"S-TOT"},{"e":-4.6,"v":0.7,"s":"S-TOT"},{"e":-4.5,"v":0.8,"s":"S-TOT"},{"e":-4.42,"v":1.0,"s":"S-TOT"},{"e":-4.35,"v":0.6,"s":"S-TOT"},{"e":-4.28,"v":0.2,"s":"S-TOT"},{"e":-4.22,"v":0,"s":"S-TOT"},{"e":-3.0,"v":0,"s":"S-TOT"},{"e":-2.92,"v":0.8,"s":"S-TOT"},{"e":-2.82,"v":2.2,"s":"S-TOT"},{"e":-2.72,"v":3.0,"s":"S-TOT"},{"e":-2.62,"v":2.6,"s":"S-TOT"},{"e":-2.52,"v":2.0,"s":"S-TOT"},{"e":-2.42,"v":1.6,"s":"S-TOT"},{"e":-2.32,"v":2.4,"s":"S-TOT"},{"e":-2.22,"v":2.0,"s":"S-TOT"},{"e":-2.12,"v":2.3,"s":"S-TOT"},{"e":-2.04,"v":1.6,"s":"S-TOT"},{"e":-1.97,"v":0.6,"s":"S-TOT"},{"e":-1.92,"v":0.5,"s":"S-TOT"},{"e":-1.85,"v":2.2,"s":"S-TOT"},{"e":-1.76,"v":2.8,"s":"S-TOT"},{"e":-1.65,"v":2.4,"s":"S-TOT"},{"e":-1.52,"v":1.8,"s":"S-TOT"},{"e":-1.4,"v":1.7,"s":"S-TOT"},{"e":-1.29,"v":2.0,"s":"S-TOT"},{"e":-1.18,"v":2.6,"s":"S-TOT"},{"e":-1.1,"v":3.4,"s":"S-TOT"},{"e":-0.98,"v":4.2,"s":"S-TOT"},{"e":-0.9,"v":3.9,"s":"S-TOT"},{"e":-0.82,"v":4.0,"s":"S-TOT"},{"e":-0.72,"v":3.8,"s":"S-TOT"},{"e":-0.65,"v":4.3,"s":"S-TOT"},{"e":-0.57,"v":4.4,"s":"S-TOT"},{"e":-0.5,"v":5.0,"s":"S-TOT"},{"e":-0.42,"v":6.5,"s":"S-TOT"},{"e":-0.35,"v":9.5,"s":"S-TOT"},{"e":-0.3,"v":11.3,"s":"S-TOT"},{"e":-0.24,"v":10,"s":"S-TOT"},{"e":-0.18,"v":6.5,"s":"S-TOT"},{"e":-0.1,"v":3,"s":"S-TOT"},{"e":-0.04,"v":0.8,"s":"S-TOT"},{"e":0.05,"v":0,"s":"S-TOT"},{"e":4.0,"v":0,"s":"S-TOT"},{"e":4.15,"v":0.3,"s":"S-TOT"},{"e":4.3,"v":1.0,"s":"S-TOT"},{"e":4.44,"v":2.5,"s":"S-TOT"},{"e":4.55,"v":3.3,"s":"S-TOT"},{"e":4.7,"v":3.4,"s":"S-TOT"},{"e":4.84,"v":3.6,"s":"S-TOT"},{"e":5.0,"v":4.1,"s":"S-TOT"},{"e":5.08,"v":3.5,"s":"S-TOT"},{"e":5.15,"v":2.0,"s":"S-TOT"},{"e":5.25,"v":0.8,"s":"S-TOT"},{"e":5.35,"v":0.1,"s":"S-TOT"},{"e":5.45,"v":0,"s":"S-TOT"},{"e":6.0,"v":0,"s":"S-TOT"},{"e":6.3,"v":0.2,"s":"S-TOT"},{"e":6.6,"v":0.4,"s":"S-TOT"},{"e":6.8,"v":0.5,"s":"S-TOT"},{"e":7.0,"v":0.3,"s":"S-TOT"},{"e":7.3,"v":0.7,"s":"S-TOT"},{"e":7.5,"v":0.4,"s":"S-TOT"},{"e":7.8,"v":0.6,"s":"S-TOT"},{"e":8.1,"v":0.8,"s":"S-TOT"},{"e":8.4,"v":0.5,"s":"S-TOT"},{"e":8.8,"v":0.3,"s":"S-TOT"},{"e":9.2,"v":0.6,"s":"S-TOT"},{"e":9.45,"v":1.2,"s":"S-TOT"},{"e":9.57,"v":1.6,"s":"S-TOT"},{"e":9.7,"v":1.2,"s":"S-TOT"},{"e":9.85,"v":0.5,"s":"S-TOT"},{"e":10,"v":0.8,"s":"S-TOT"},
{"e":-6,"v":10.5,"s":"Hg-TOT"},{"e":-5.94,"v":7.5,"s":"Hg-TOT"},{"e":-5.88,"v":6.2,"s":"Hg-TOT"},{"e":-5.8,"v":7.0,"s":"Hg-TOT"},{"e":-5.76,"v":5,"s":"Hg-TOT"},{"e":-5.72,"v":0.6,"s":"Hg-TOT"},{"e":-5.68,"v":3,"s":"Hg-TOT"},{"e":-5.64,"v":6.0,"s":"Hg-TOT"},{"e":-5.57,"v":7.5,"s":"Hg-TOT"},{"e":-5.5,"v":8.0,"s":"Hg-TOT"},{"e":-5.44,"v":12,"s":"Hg-TOT"},{"e":-5.38,"v":25,"s":"Hg-TOT"},{"e":-5.12,"v":25,"s":"Hg-TOT"},{"e":-5.08,"v":20.8,"s":"Hg-TOT"},{"e":-5.04,"v":25,"s":"Hg-TOT"},{"e":-4.44,"v":25,"s":"Hg-TOT"},{"e":-4.36,"v":12,"s":"Hg-TOT"},{"e":-4.3,"v":5,"s":"Hg-TOT"},{"e":-4.25,"v":1,"s":"Hg-TOT"},{"e":-4.22,"v":0,"s":"Hg-TOT"},{"e":-3.0,"v":0,"s":"Hg-TOT"},{"e":-2.93,"v":0.8,"s":"Hg-TOT"},{"e":-2.82,"v":2.5,"s":"Hg-TOT"},{"e":-2.72,"v":6.0,"s":"Hg-TOT"},{"e":-2.62,"v":5.8,"s":"Hg-TOT"},{"e":-2.54,"v":5.2,"s":"Hg-TOT"},{"e":-2.45,"v":4.5,"s":"Hg-TOT"},{"e":-2.38,"v":4.2,"s":"Hg-TOT"},{"e":-2.32,"v":5.2,"s":"Hg-TOT"},{"e":-2.28,"v":6.0,"s":"Hg-TOT"},{"e":-2.22,"v":5,"s":"Hg-TOT"},{"e":-2.16,"v":4.0,"s":"Hg-TOT"},{"e":-2.07,"v":4.5,"s":"Hg-TOT"},{"e":-2.0,"v":1.5,"s":"Hg-TOT"},{"e":-1.95,"v":0.3,"s":"Hg-TOT"},{"e":-1.88,"v":1.5,"s":"Hg-TOT"},{"e":-1.8,"v":2.0,"s":"Hg-TOT"},{"e":-1.7,"v":2.0,"s":"Hg-TOT"},{"e":-1.6,"v":1.8,"s":"Hg-TOT"},{"e":-1.52,"v":1.4,"s":"Hg-TOT"},{"e":-1.4,"v":1.4,"s":"Hg-TOT"},{"e":-1.29,"v":1.3,"s":"Hg-TOT"},{"e":-1.18,"v":1.8,"s":"Hg-TOT"},{"e":-1.05,"v":2.2,"s":"Hg-TOT"},{"e":-0.9,"v":2.2,"s":"Hg-TOT"},{"e":-0.78,"v":2.4,"s":"Hg-TOT"},{"e":-0.65,"v":2.6,"s":"Hg-TOT"},{"e":-0.55,"v":3.0,"s":"Hg-TOT"},{"e":-0.45,"v":3.8,"s":"Hg-TOT"},{"e":-0.38,"v":6.0,"s":"Hg-TOT"},{"e":-0.32,"v":8.5,"s":"Hg-TOT"},{"e":-0.28,"v":9.1,"s":"Hg-TOT"},{"e":-0.22,"v":7.5,"s":"Hg-TOT"},{"e":-0.16,"v":5,"s":"Hg-TOT"},{"e":-0.1,"v":2.5,"s":"Hg-TOT"},{"e":-0.04,"v":0.8,"s":"Hg-TOT"},{"e":0.05,"v":0,"s":"Hg-TOT"},{"e":4.0,"v":0,"s":"Hg-TOT"},{"e":4.13,"v":0.5,"s":"Hg-TOT"},{"e":4.25,"v":1.0,"s":"Hg-TOT"},{"e":4.38,"v":1.6,"s":"Hg-TOT"},{"e":4.45,"v":3.5,"s":"Hg-TOT"},{"e":4.52,"v":4.4,"s":"Hg-TOT"},{"e":4.6,"v":4.6,"s":"Hg-TOT"},{"e":4.72,"v":4.5,"s":"Hg-TOT"},{"e":4.84,"v":4.6,"s":"Hg-TOT"},{"e":4.95,"v":4.9,"s":"Hg-TOT"},{"e":5.02,"v":5.1,"s":"Hg-TOT"},{"e":5.1,"v":4,"s":"Hg-TOT"},{"e":5.18,"v":2.0,"s":"Hg-TOT"},{"e":5.28,"v":0.6,"s":"Hg-TOT"},{"e":5.38,"v":0.1,"s":"Hg-TOT"},{"e":5.45,"v":0,"s":"Hg-TOT"},{"e":6.0,"v":0,"s":"Hg-TOT"},{"e":6.2,"v":0.1,"s":"Hg-TOT"},{"e":6.45,"v":0.3,"s":"Hg-TOT"},{"e":6.75,"v":0.9,"s":"Hg-TOT"},{"e":6.9,"v":0.6,"s":"Hg-TOT"},{"e":7.1,"v":0.8,"s":"Hg-TOT"},{"e":7.27,"v":1.5,"s":"Hg-TOT"},{"e":7.45,"v":0.7,"s":"Hg-TOT"},{"e":7.6,"v":0.7,"s":"Hg-TOT"},{"e":7.79,"v":1.1,"s":"Hg-TOT"},{"e":7.9,"v":0.7,"s":"Hg-TOT"},{"e":8.1,"v":1.6,"s":"Hg-TOT"},{"e":8.3,"v":1.1,"s":"Hg-TOT"},{"e":8.6,"v":0.7,"s":"Hg-TOT"},{"e":8.84,"v":0.4,"s":"Hg-TOT"},{"e":9.05,"v":0.6,"s":"Hg-TOT"},{"e":9.25,"v":1.0,"s":"Hg-TOT"},{"e":9.45,"v":2.0,"s":"Hg-TOT"},{"e":9.55,"v":2.8,"s":"Hg-TOT"},{"e":9.68,"v":2.5,"s":"Hg-TOT"},{"e":9.8,"v":1.2,"s":"Hg-TOT"},{"e":9.9,"v":1.0,"s":"Hg-TOT"},{"e":10,"v":1.5,"s":"Hg-TOT"}
],
"label": [
{"e":1.35,"v":0.405,"t":"Hg"},{"e":1.87,"v":0.355,"t":"3"},{"e":2.46,"v":0.42,"t":"(SF)"},{"e":3.12,"v":0.35,"t":"2"}
]
},
"vconcat": [
{
 "width": 680, "height": 137,
 "data": {"name": "hg"},
 "mark": {"type": "line", "clip": true},
 "encoding": {
  "x": {"field": "e", "type": "quantitative", "scale": {"domain": [-6, 10], "nice": false}, "axis": {"values": [-6,-5,-4,-3,-2,-1,0,1,2,3,4,5,6,7,8,9,10], "labels": false, "title": null}},
  "y": {"field": "v", "type": "quantitative", "scale": {"domain": [-0.005, 0.596], "nice": false, "zero": false}, "axis": {"title": "PDOS (States/ eV)", "values": [0,0.05,0.1,0.15,0.2,0.25,0.3,0.35,0.4,0.45,0.5,0.55], "labelExpr": "round(datum.value*100) % 10 == 0 ? format(datum.value, '.1f') : ''", "tickSize": {"condition": {"test": "round(datum.value*100) % 10 == 0", "value": 6}, "value": 3}}},
  "color": {"field": "s", "type": "nominal", "sort": ["Hg-s","Hg-p","Hg-d","Hg-f"], "scale": {"domain": ["Hg-s","Hg-p","Hg-d","Hg-f"], "range": ["#000000","#ff0000","#0000ff","#ff00ff"]}, "legend": {"legendX": 337, "legendY": 9}}
 }
},
{
 "width": 680, "height": 137,
 "layer": [
  {
   "data": {"name": "s"},
   "mark": {"type": "line", "clip": true},
   "encoding": {
    "x": {"field": "e", "type": "quantitative", "scale": {"domain": [-6, 10], "nice": false}, "axis": {"values": [-6,-5,-4,-3,-2,-1,0,1,2,3,4,5,6,7,8,9,10], "labels": false, "title": null}},
    "y": {"field": "v", "type": "quantitative", "scale": {"domain": [-0.013, 0.578], "nice": false, "zero": false}, "axis": {"title": "PDOS (States/ eV)", "values": [0,0.05,0.1,0.15,0.2,0.25,0.3,0.35,0.4,0.45,0.5,0.55], "labelExpr": "round(datum.value*100) % 10 == 0 ? format(datum.value, '.1f') : ''", "tickSize": {"condition": {"test": "round(datum.value*100) % 10 == 0", "value": 6}, "value": 3}}},
    "color": {"field": "s", "type": "nominal", "sort": ["S-s","S-p"], "scale": {"domain": ["S-s","S-p"], "range": ["#000000","#ff0000"]}, "legend": {"legendX": 581, "legendY": 19, "rowPadding": 7}}
   }
  },
  {
   "data": {"name": "label"},
   "mark": {"type": "text", "font": "Liberation Sans", "fontSize": 20, "fontWeight": "bold", "fontStyle": "italic", "color": "black", "align": "center", "baseline": "middle"},
   "encoding": {
    "x": {"field": "e", "type": "quantitative"},
    "y": {"field": "v", "type": "quantitative"},
    "text": {"field": "t"}
   }
  }
 ]
},
{
 "width": 680, "height": 137,
 "data": {"name": "f"},
 "mark": {"type": "line", "clip": true},
 "encoding": {
  "x": {"field": "e", "type": "quantitative", "scale": {"domain": [-6, 10], "nice": false}, "axis": {"values": [-6,-5,-4,-3,-2,-1,0,1,2,3,4,5,6,7,8,9,10], "labels": false, "title": null}},
  "y": {"field": "v", "type": "quantitative", "scale": {"domain": [-0.005, 0.59], "nice": false, "zero": false}, "axis": {"title": "PDOS (States/ eV)", "values": [0,0.05,0.1,0.15,0.2,0.25,0.3,0.35,0.4,0.45,0.5,0.55], "labelExpr": "round(datum.value*100) % 10 == 0 ? format(datum.value, '.1f') : ''", "tickSize": {"condition": {"test": "round(datum.value*100) % 10 == 0", "value": 6}, "value": 3}}},
  "color": {"field": "s", "type": "nominal", "sort": ["F-s","F-p"], "scale": {"domain": ["F-s","F-p"], "range": ["#000000","#ff0000"]}, "legend": {"legendX": 584, "legendY": 23, "rowPadding": 5, "title": " ", "titleOrient": "bottom", "titleFontSize": 10, "titlePadding": 4}}
 }
},
{
 "width": 680, "height": 137,
 "data": {"name": "t"},
 "mark": {"type": "line", "clip": true},
 "encoding": {
  "x": {"field": "e", "type": "quantitative", "scale": {"domain": [-6, 10], "nice": false}, "axis": {"values": [-6,-5,-4,-3,-2,-1,0,1,2,3,4,5,6,7,8,9,10], "labelExpr": "datum.value % 2 == 0 ? datum.label : ''", "title": "Energy (eV)", "titleFont": "Liberation Serif", "titleFontSize": 19, "titleFontStyle": "italic", "titleFontWeight": "bold", "titleColor": "black", "titlePadding": 12, "labelFont": "Liberation Sans", "labelFontWeight": "bold", "labelFontSize": 13, "labelPadding": 18}},
  "y": {"field": "v", "type": "quantitative", "scale": {"domain": [-0.25, 21.9], "nice": false, "zero": false}, "axis": {"title": "TDOS (States/ eV Unit cell)", "titleFontSize": 11.5, "values": [0,2,4,6,8,10,12,14,16,18,20], "labelExpr": "datum.value % 4 == 0 ? datum.label : ''", "tickSize": {"condition": {"test": "datum.value % 4 == 0", "value": 6}, "value": 3}}},
  "color": {"field": "s", "type": "nominal", "sort": ["TDOS","F-TOT","S-TOT","Hg-TOT"], "scale": {"domain": ["TDOS","F-TOT","S-TOT","Hg-TOT"], "range": ["#000000","#ff0000","#0000ff","#ff00ff"]}, "legend": {"legendX": 484, "legendY": 1, "rowPadding": 5.5}}
 }
}
]
}
